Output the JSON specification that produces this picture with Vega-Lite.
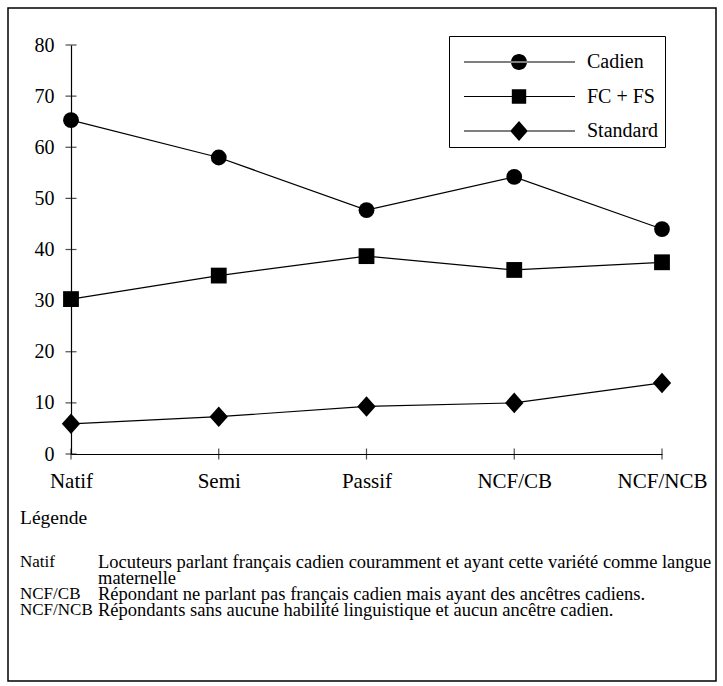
{
  "$schema": "https://vega.github.io/schema/vega-lite/v6.json",
  "width": 708,
  "height": 673,
  "padding": {"left": 8, "top": 8, "right": 7, "bottom": 5},
  "autosize": "none",
  "background": "white",
  "config": {
    "font": "Liberation Serif",
    "view": {"stroke": "black", "strokeWidth": 1.5},
    "axis": {"labelFont": "Liberation Serif", "labelColor": "black", "domainColor": "black", "grid": false},
    "legend": {"labelFont": "Liberation Serif", "titleFont": "Liberation Serif"},
    "text": {"font": "Liberation Serif"}
  },
  "datasets": {
    "series": [
      {"groupe": "Natif", "variete": "Cadien", "pct": 65.3},
      {"groupe": "Semi", "variete": "Cadien", "pct": 58.0},
      {"groupe": "Passif", "variete": "Cadien", "pct": 47.7},
      {"groupe": "NCF/CB", "variete": "Cadien", "pct": 54.2},
      {"groupe": "NCF/NCB", "variete": "Cadien", "pct": 44.0},
      {"groupe": "Natif", "variete": "FC + FS", "pct": 30.3},
      {"groupe": "Semi", "variete": "FC + FS", "pct": 34.9},
      {"groupe": "Passif", "variete": "FC + FS", "pct": 38.7},
      {"groupe": "NCF/CB", "variete": "FC + FS", "pct": 36.0},
      {"groupe": "NCF/NCB", "variete": "FC + FS", "pct": 37.5},
      {"groupe": "Natif", "variete": "Standard", "pct": 5.9},
      {"groupe": "Semi", "variete": "Standard", "pct": 7.3},
      {"groupe": "Passif", "variete": "Standard", "pct": 9.3},
      {"groupe": "NCF/CB", "variete": "Standard", "pct": 10.0},
      {"groupe": "NCF/NCB", "variete": "Standard", "pct": 13.9}
    ],
    "yticks": [
      {"groupe": "Natif", "v": 0}, {"groupe": "Natif", "v": 10}, {"groupe": "Natif", "v": 20},
      {"groupe": "Natif", "v": 30}, {"groupe": "Natif", "v": 40}, {"groupe": "Natif", "v": 50},
      {"groupe": "Natif", "v": 60}, {"groupe": "Natif", "v": 70}, {"groupe": "Natif", "v": 80}
    ],
    "xticks": [
      {"groupe": "Natif", "v": 0}, {"groupe": "Semi", "v": 0}, {"groupe": "Passif", "v": 0},
      {"groupe": "NCF/CB", "v": 0}, {"groupe": "NCF/NCB", "v": 0}
    ],
    "terms": [
      {"col": "term", "line": 1, "txt": "Natif"},
      {"col": "term", "line": 3, "txt": "NCF/CB"},
      {"col": "term", "line": 4, "txt": "NCF/NCB"}
    ],
    "descs": [
      {"col": "desc", "line": 1, "txt": "Locuteurs parlant français cadien couramment et ayant cette variété comme langue"},
      {"col": "desc", "line": 2, "txt": "maternelle"},
      {"col": "desc", "line": 3, "txt": "Répondant ne parlant pas français cadien mais ayant des ancêtres cadiens."},
      {"col": "desc", "line": 4, "txt": "Répondants sans aucune habilité linguistique et aucun ancêtre cadien."}
    ],
    "heading": [
      {"col": "term", "line": 1, "txt": "Légende"}
    ]
  },
  "layer": [
    {
      "layer": [
        {
          "data": {"name": "series"},
          "mark": {"type": "line", "color": "black", "strokeWidth": 1.2},
          "encoding": {
            "x": {"field": "groupe", "type": "ordinal", "sort": ["Natif", "Semi", "Passif", "NCF/CB", "NCF/NCB"],
                  "scale": {"type": "point", "padding": 0, "range": [63, 654]},
                  "axis": {"orient": "bottom", "offset": -227, "title": null, "ticks": false, "labelAngle": 0,
                           "labelFontSize": 21, "labelPadding": 16, "domainWidth": 1.2}},
            "y": {"field": "pct", "type": "quantitative",
                  "scale": {"domain": [0, 80], "range": [446, 37], "nice": false, "zero": true},
                  "axis": {"orient": "left", "offset": -63, "title": null, "ticks": false, "values": [0, 10, 20, 30, 40, 50, 60, 70, 80],
                           "labelFontSize": 20, "labelPadding": 17, "domainWidth": 1.2}},
            "detail": {"field": "variete"}
          }
        },
        {
          "data": {"name": "yticks"},
          "mark": {"type": "tick", "orient": "horizontal", "color": "black", "size": 11, "thickness": 1.2},
          "encoding": {
            "x": {"field": "groupe", "type": "ordinal", "sort": ["Natif", "Semi", "Passif", "NCF/CB", "NCF/NCB"]},
            "y": {"field": "v", "type": "quantitative"}
          }
        },
        {
          "data": {"name": "xticks"},
          "mark": {"type": "tick", "orient": "vertical", "color": "black", "size": 11, "thickness": 1.2},
          "encoding": {
            "x": {"field": "groupe", "type": "ordinal", "sort": ["Natif", "Semi", "Passif", "NCF/CB", "NCF/NCB"]},
            "y": {"field": "v", "type": "quantitative"}
          }
        },
        {
          "data": {"name": "series"},
          "mark": {"type": "point", "filled": true, "color": "black", "opacity": 1, "strokeWidth": 0, "size": 250},
          "encoding": {
            "x": {"field": "groupe", "type": "ordinal", "sort": ["Natif", "Semi", "Passif", "NCF/CB", "NCF/NCB"]},
            "y": {"field": "pct", "type": "quantitative"},
            "shape": {"field": "variete", "type": "nominal",
                      "scale": {"domain": ["Cadien", "FC + FS", "Standard"], "range": ["circle", "square", "M0,-1.3L1.16,0L0,1.3L-1.16,0Z"]},
                      "legend": null}
          }
        },
        {
          "data": {"name": "series"},
          "mark": {"type": "point", "filled": true, "color": "black", "opacity": 0, "strokeWidth": 0, "size": 256},
          "encoding": {
            "x": {"field": "groupe", "type": "ordinal", "sort": ["Natif", "Semi", "Passif", "NCF/CB", "NCF/NCB"]},
            "y": {"field": "pct", "type": "quantitative"},
            "shape": {"field": "variete", "type": "nominal",
                      "scale": {"domain": ["Cadien", "FC + FS", "Standard"],
                                "range": ["M-0.125,-0.07H13.75V0.07H-0.125ZM5.75,0A1,1,0,1,0,7.75,0A1,1,0,1,0,5.75,0Z", "M-0.125,-0.07H13.75V0.07H-0.125ZM5.85,-0.9H7.65V0.9H5.85Z", "M-0.125,-0.07H13.75V0.07H-0.125ZM6.75,-1.25L7.85,0L6.75,1.25L5.65,0Z"]},
                      "legend": {
                        "title": " ", "titleFontSize": 8, "titlePadding": 2,
                        "orient": "none", "legendX": 441, "legendY": 28,
                        "strokeColor": "black", "fillColor": "white", "padding": 6,
                        "labelFontSize": 20, "labelColor": "black",
                        "rowPadding": 14.5, "labelOffset": 112, "symbolSize": 256,
                        "symbolOpacity": 1, "symbolFillColor": "black", "symbolStrokeColor": "black", "symbolStrokeWidth": 0
                      }}
          }
        }
      ],
      "resolve": {"scale": {"shape": "independent"}}
    },
    {
      "layer": [
        {
          "data": {"name": "descs"},
          "mark": {"type": "text", "align": "left", "baseline": "middle", "fontSize": 18.5, "color": "black"},
          "encoding": {
            "x": {"field": "col", "type": "ordinal", "sort": ["term", "desc"], "scale": {"type": "point", "padding": 0, "range": [12, 90], "domain": ["term", "desc"]}, "axis": null},
            "y": {"field": "line", "type": "quantitative", "scale": {"domain": [1, 4], "range": [554, 602]}, "axis": null},
            "text": {"field": "txt"}
          }
        },
        {
          "data": {"name": "terms"},
          "mark": {"type": "text", "align": "left", "baseline": "middle", "fontSize": 17, "color": "black"},
          "encoding": {
            "x": {"field": "col", "type": "ordinal", "sort": ["term", "desc"]},
            "y": {"field": "line", "type": "quantitative"},
            "text": {"field": "txt"}
          }
        },
        {
          "data": {"name": "heading"},
          "mark": {"type": "text", "align": "left", "baseline": "middle", "fontSize": 19.5, "color": "black", "dy": -44},
          "encoding": {
            "x": {"field": "col", "type": "ordinal", "sort": ["term", "desc"]},
            "y": {"field": "line", "type": "quantitative"},
            "text": {"field": "txt"}
          }
        }
      ]
    }
  ],
  "resolve": {"scale": {"x": "independent", "y": "independent"}, "axis": {"x": "independent", "y": "independent"}}
}
